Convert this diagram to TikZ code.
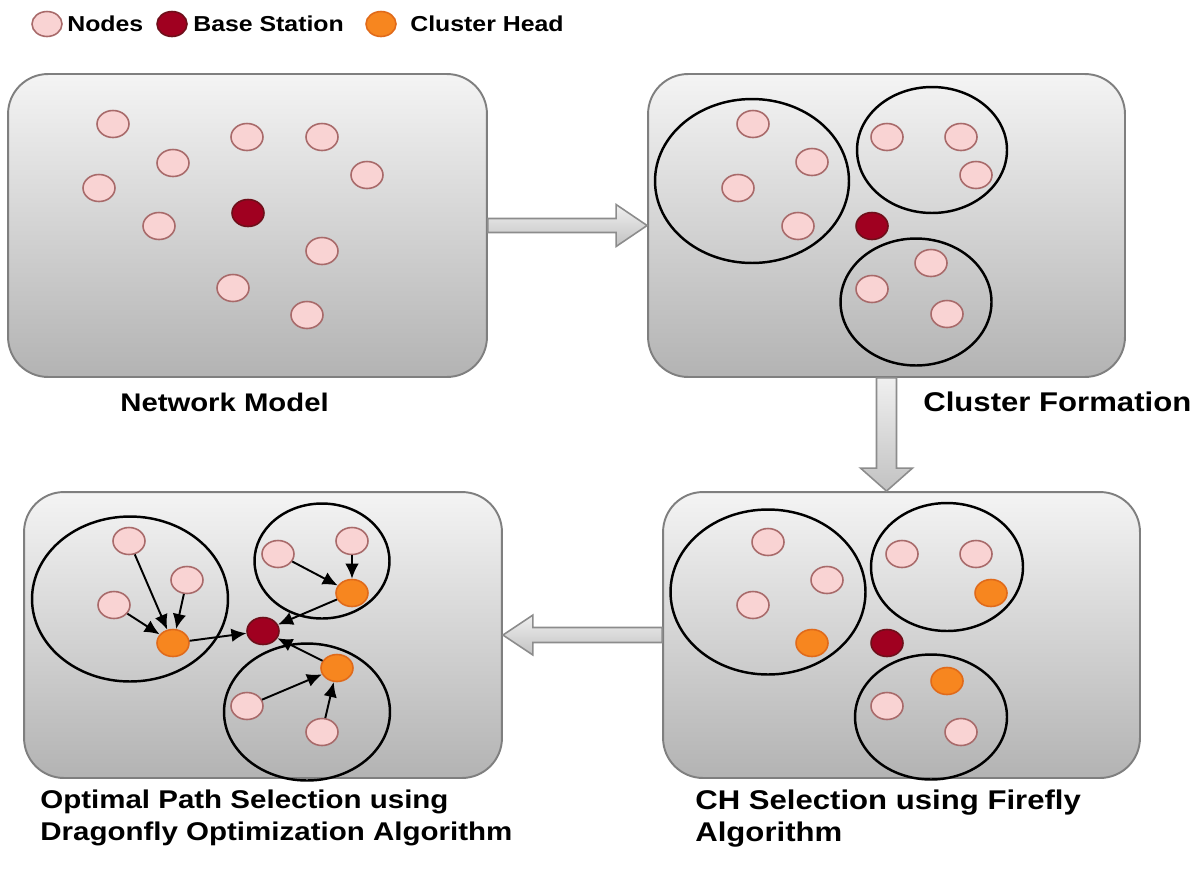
\documentclass[tikz,border=0pt]{standalone}
\usepackage{fontspec}
\setmainfont{Liberation Sans}[FakeStretch=1.15]
\usetikzlibrary{shapes.geometric,arrows.meta,calc}

\definecolor{sensorfill}{HTML}{F9D3D3}
\definecolor{sensoredge}{HTML}{A86A6A}
\definecolor{bsfill}{HTML}{A00020}
\definecolor{bsedge}{HTML}{6E0F1A}
\definecolor{chfill}{HTML}{F7861F}
\definecolor{chedge}{HTML}{E06A1A}
\definecolor{panelline}{HTML}{7F7F7F}
\definecolor{paneltop}{HTML}{F4F4F4}
\definecolor{panelbot}{HTML}{B3B3B3}
\definecolor{arrowedge}{HTML}{8C8C8C}

\tikzset{
  panel/.style={draw=panelline, line width=1.1pt, rounded corners=0.8cm, top color=paneltop, bottom color=panelbot, inner sep=0},
  sensor/.style={shape=ellipse, draw=sensoredge, fill=sensorfill, line width=0.9pt, minimum width=0.64cm, minimum height=0.54cm, inner sep=0},
  bsnode/.style={sensor, draw=bsedge, fill=bsfill},
  chnode/.style={sensor, draw=chedge, fill=chfill},
  cluster/.style={shape=ellipse, draw=black, line width=1.4pt, inner sep=0},
  hop/.style={-{Latex[length=3mm,width=2.7mm]}, line width=1.1pt, draw=black},
  blockarrow/.style={draw=arrowedge, line width=0.9pt, top color=black!6, bottom color=black!24},
  caption/.style={font=\bfseries\fontsize{15.4}{18.1}\selectfont, inner sep=0, align=left},
  legendtext/.style={font=\bfseries\fontsize{12.3}{14}\selectfont, inner sep=0},
}

\begin{document}
\begin{tikzpicture}[x=0.02cm, y=-0.02cm]
\useasboundingbox (0,0) rectangle (1195,876);
% legend
\node[sensor, minimum width=0.6cm, minimum height=0.5cm] (lsensor) at (47,24) {};
\node[legendtext, anchor=west] (lsensortext) at (67,24) {Nodes};
\node[bsnode, minimum width=0.6cm, minimum height=0.5cm] (lbs) at (172,24) {};
\node[legendtext, anchor=west] (lbstext) at (193,24) {Base Station};
\node[chnode, minimum width=0.6cm, minimum height=0.5cm] (lch) at (381,24) {};
\node[legendtext, anchor=west] (lchtext) at (410,24) {Cluster Head};

% panels
\node[panel, minimum width=9.58cm, minimum height=6.06cm] (net) at (247.5,225.5) {};
\node[panel, minimum width=9.54cm, minimum height=6.06cm] (form) at (886.5,225.5) {};
\node[panel, minimum width=9.56cm, minimum height=5.72cm] (opt) at (263,635) {};
\node[panel, minimum width=9.54cm, minimum height=5.72cm] (sel) at (901.5,635) {};

% block arrows between panels
\draw[blockarrow] ($(net.east)+(0,-7)$) -- ($(form.west)+(-31,-7)$) -- ($(form.west)+(-31,-21)$) -- (form.west) -- ($(form.west)+(-31,21)$) -- ($(form.west)+(-31,7)$) -- ($(net.east)+(0,7)$) -- cycle;
\coordinate (downtip) at (form.south |- sel.north);
\draw[blockarrow] ($(form.south)+(-10,0)$) -- ($(downtip)+(-10,-23)$) -- ($(downtip)+(-26,-23)$) -- (downtip) -- ($(downtip)+(26,-23)$) -- ($(downtip)+(10,-23)$) -- ($(form.south)+(10,0)$) -- cycle;
\draw[blockarrow] ($(sel.west)+(0,-7.5)$) -- ($(opt.east)+(30,-7.5)$) -- ($(opt.east)+(30,-20)$) -- (opt.east) -- ($(opt.east)+(30,20)$) -- ($(opt.east)+(30,7.5)$) -- ($(sel.west)+(0,7.5)$) -- cycle;

% network model
\node[sensor] (a1) at (113,124) {};
\node[sensor] (a2) at (247,137) {};
\node[sensor] (a3) at (322,137) {};
\node[sensor] (a4) at (173,163) {};
\node[sensor] (a5) at (367,175) {};
\node[sensor] (a6) at (99,188) {};
\node[sensor] (a7) at (159,226) {};
\node[bsnode] (abs) at (248,213) {};
\node[sensor] (a8) at (322,251) {};
\node[sensor] (a9) at (233,288) {};
\node[sensor] (a10) at (307,315) {};

% cluster formation
\node[cluster, minimum width=3.88cm, minimum height=3.28cm] (bg1) at (752,181) {};
\node[cluster, minimum width=3.0cm, minimum height=2.52cm] (bg2) at (932,150) {};
\node[cluster, minimum width=3.02cm, minimum height=2.54cm] (bg3) at (916,302) {};
\node[sensor] (b1) at (753,124) {};
\node[sensor] (b2) at (812,162) {};
\node[sensor] (b3) at (738,188) {};
\node[sensor] (b4) at (798,226) {};
\node[sensor] (b5) at (887,137) {};
\node[sensor] (b6) at (961,137) {};
\node[sensor] (b7) at (976,175) {};
\node[bsnode] (bbs) at (872,226) {};
\node[sensor] (b8) at (931,263) {};
\node[sensor] (b9) at (872,289) {};
\node[sensor] (b10) at (947,314) {};

% CH selection
\node[cluster, minimum width=3.9cm, minimum height=3.3cm] (dg1) at (768,592) {};
\node[cluster, minimum width=3.04cm, minimum height=2.56cm] (dg2) at (947,567) {};
\node[cluster, minimum width=3.04cm, minimum height=2.5cm] (dg3) at (931,717) {};
\node[sensor] (d1) at (768,542) {};
\node[sensor] (d2) at (827,580) {};
\node[sensor] (d3) at (753,605) {};
\node[chnode] (dch1) at (812,643) {};
\node[sensor] (d4) at (902,554) {};
\node[sensor] (d5) at (976,554) {};
\node[chnode] (dch2) at (991,593) {};
\node[bsnode] (dbs) at (887,643) {};
\node[chnode] (dch3) at (947,681) {};
\node[sensor] (d6) at (887,706) {};
\node[sensor] (d7) at (961,732) {};

% optimal path
\node[cluster, minimum width=3.92cm, minimum height=3.3cm] (cg1) at (130,599) {};
\node[cluster, minimum width=2.7cm, minimum height=2.3cm] (cg2) at (322,561) {};
\node[cluster, minimum width=3.32cm, minimum height=2.74cm] (cg3) at (307,712) {};
\node[sensor] (c1) at (129,541) {};
\node[sensor] (c2) at (187,580) {};
\node[sensor] (c3) at (114,605) {};
\node[chnode] (cch1) at (173,643) {};
\node[sensor] (c4) at (278,554) {};
\node[sensor] (c5) at (352,541) {};
\node[chnode] (cch2) at (352,593) {};
\node[bsnode] (cbs) at (263,631) {};
\node[chnode] (cch3) at (337,668) {};
\node[sensor] (c6) at (247,706) {};
\node[sensor] (c7) at (322,732) {};
\path[hop] (c1) edge (cch1);
\path[hop] (c2) edge (cch1);
\path[hop] (c3) edge (cch1);
\path[hop] (cch1) edge (cbs);
\path[hop] (c4) edge (cch2);
\path[hop] (c5) edge (cch2);
\path[hop] (cch2) edge (cbs);
\path[hop] (c6) edge (cch3);
\path[hop] (c7) edge (cch3);
\path[hop] (cch3) edge (cbs);

% captions
\node[caption, anchor=west, font=\bfseries\fontsize{14.5}{17}\selectfont] (tnet) at (120,402) {Network Model};
\node[caption, anchor=west] (tform) at (923,402) {Cluster Formation};
\node[caption, anchor=north west] (tsel) at (695,790) {CH Selection using Firefly\\Algorithm};
\node[caption, anchor=north west, font=\bfseries\fontsize{14.6}{18.1}\selectfont] (topt) at (40,790) {Optimal Path Selection using\\Dragonfly Optimization Algorithm};
\end{tikzpicture}
\end{document}
